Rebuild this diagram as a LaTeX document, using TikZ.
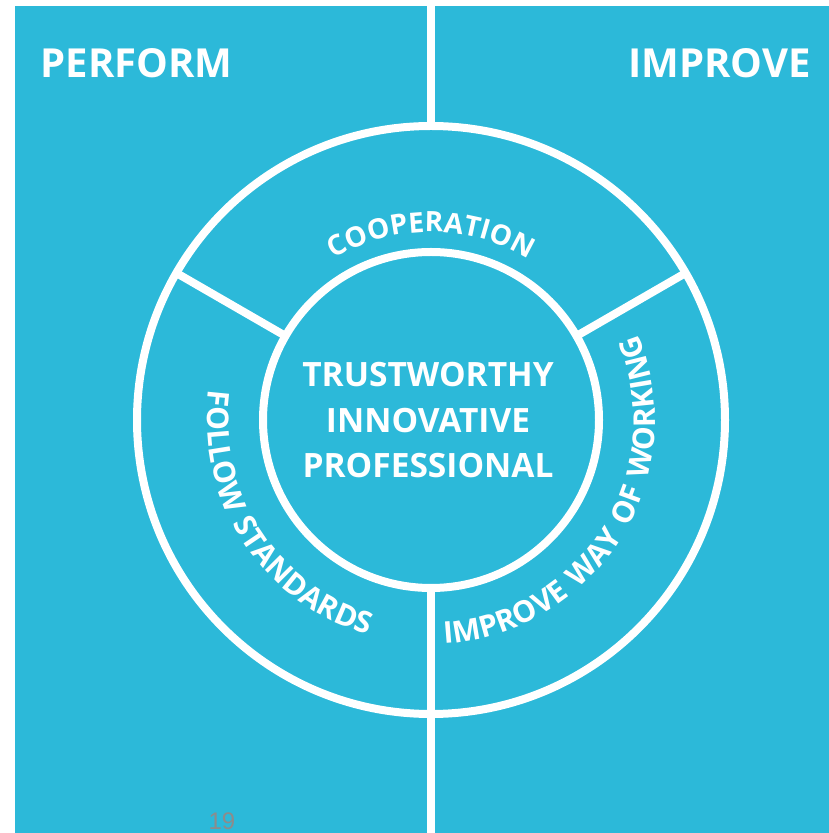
\documentclass[tikz,border=0pt]{standalone}
\usepackage{fontspec}
\setmainfont{Open Sans}
\newfontfamily\arcfont[WordSpace=1.4]{Open Sans}
\newfontfamily\arialf{Liberation Sans}
\usetikzlibrary{decorations.text}
\definecolor{bg}{RGB}{44,185,217}
\definecolor{pg}{RGB}{140,140,140}
\begin{document}
\begin{tikzpicture}[x=1pt,y=1pt,
  ring/.style={draw=white, line width=8pt},
  bigtitle/.style={text=white, font=\bfseries\fontsize{40}{40}\selectfont, anchor=base, inner sep=0pt},
  core/.style={text=white, font=\bfseries\fontsize{33.5}{33.5}\selectfont, anchor=base, inner sep=0pt},
  arctext/.style={decorate, decoration={text along path, text align=center, text color=white, text={#1}}}]
\useasboundingbox (0,0) rectangle (829,833);
\fill[white] (0,0) rectangle (829,833);
\fill[bg] (15,0) rectangle (829,827);
\coordinate (C) at (431,413);
\coordinate (top) at (431,827);
\coordinate (bot) at (431,0);
\coordinate (otop) at ([shift={(90:294)}]C);
\coordinate (ibot) at ([shift={(-90:168)}]C);
\coordinate (i30) at ([shift={(30:168)}]C);
\coordinate (o30) at ([shift={(30:294)}]C);
\coordinate (i150) at ([shift={(150:168)}]C);
\coordinate (o150) at ([shift={(150:294)}]C);
\draw[ring] (C) circle[radius=294];
\draw[ring] (C) circle[radius=168];
\draw[ring] (top) -- (otop);
\draw[ring] (ibot) -- (bot);
\draw[ring] (i30) -- (o30);
\draw[ring] (i150) -- (o150);
\node[bigtitle] (perform) at (136.5,755) {PERFORM};
\node[bigtitle] (improve) at (719.5,755) {IMPROVE};
\node[core] (l1) at (428,446) {TRUSTWORTHY};
\node[core] (l2) at (428,400) {INNOVATIVE};
\node[core] (l3) at (428,355) {PROFESSIONAL};
\path[arctext={|\arcfont\bfseries\fontsize{28}{28}\selectfont|COOPERATION}]
  ([shift={(150:188)}]C) arc[start angle=150, end angle=30, radius=188];
\path[arctext={|\arcfont\bfseries\fontsize{30}{30}\selectfont|FOLLOW STANDARDS}]
  ([shift={(153:224)}]C) arc[start angle=153, end angle=273, radius=224];
\path[arctext={|\arcfont\bfseries\fontsize{30}{30}\selectfont|IMPROVE WAY OF WORKING}]
  ([shift={(258:224)}]C) arc[start angle=258, end angle=398, radius=224];
\node[text=pg, font=\arialf\fontsize{24}{24}\selectfont, anchor=base, inner sep=0pt] (pgno) at (222,4) {19};
\end{tikzpicture}
\end{document}
